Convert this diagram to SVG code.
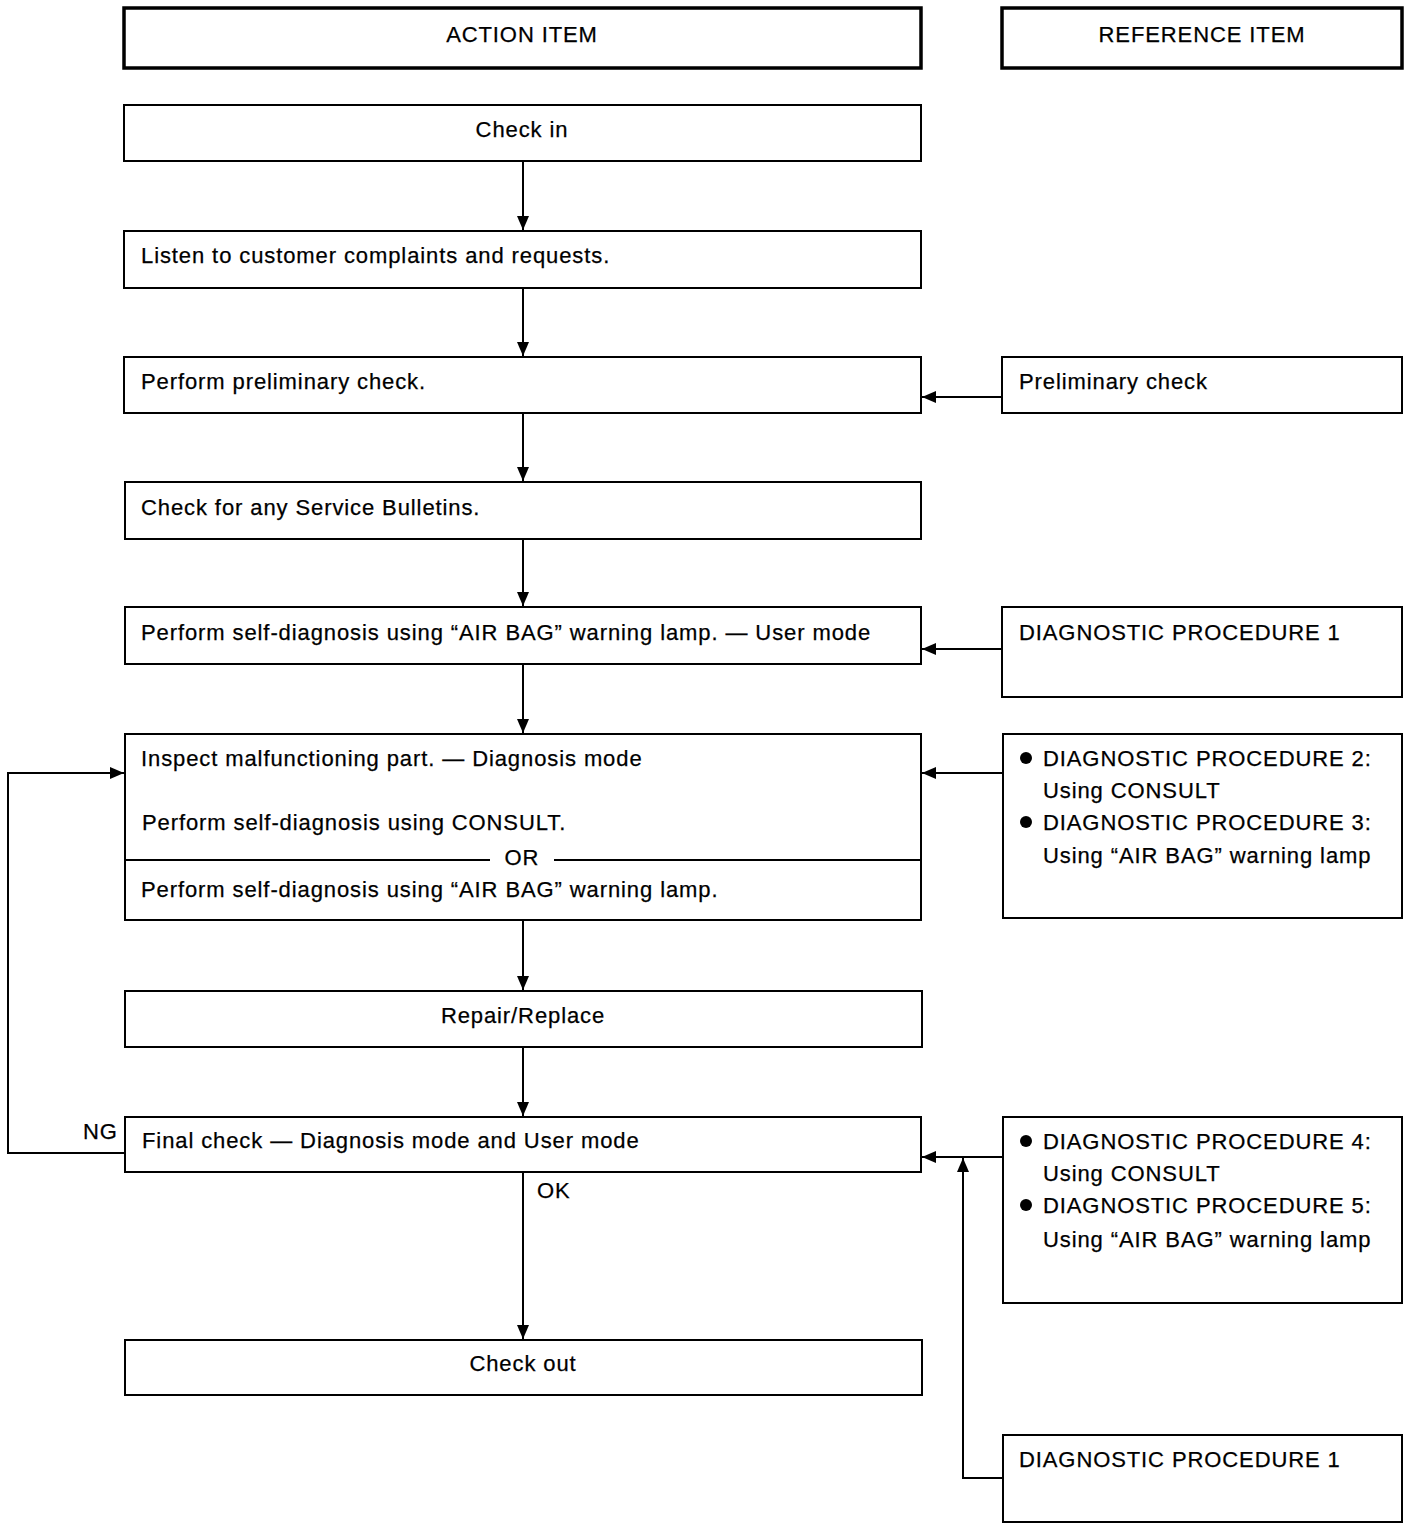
<svg xmlns="http://www.w3.org/2000/svg" width="1424" height="1530" viewBox="0 0 1424 1530">
<defs>
<marker id="ah" markerWidth="14" markerHeight="12" refX="14" refY="6" orient="auto" markerUnits="userSpaceOnUse">
<path d="M0,0 L14,6 L0,12 Z" fill="#000"/>
</marker>
<style>
.box{fill:#fff;stroke:#000;stroke-width:2}
.hdr{fill:#fff;stroke:#000;stroke-width:3.5}
text{font-family:"Liberation Sans",Arial,Helvetica,sans-serif;font-size:22px;letter-spacing:0.9px;fill:#000;stroke:#000;stroke-width:0.25}
.c{text-anchor:middle}
.ln{fill:none;stroke:#000;stroke-width:2}
</style>
</defs>
<rect width="1424" height="1530" fill="#fff"/>

<g id="hdr-action"><rect class="hdr" x="124" y="8" width="797" height="60"/><text class="c" x="522" y="42">ACTION ITEM</text></g>
<g id="hdr-ref"><rect class="hdr" x="1002" y="8" width="400" height="60"/><text class="c" x="1202" y="42">REFERENCE ITEM</text></g>

<g id="n-checkin"><rect class="box" x="124" y="105" width="797" height="56"/><text class="c" x="522" y="137">Check in</text></g>
<g id="n-listen"><rect class="box" x="124" y="231" width="797" height="57"/><text x="141" y="263">Listen to customer complaints and requests.</text></g>
<g id="n-prelim"><rect class="box" x="124" y="357" width="797" height="56"/><text x="141" y="389">Perform preliminary check.</text></g>
<g id="r-prelim"><rect class="box" x="1002" y="357" width="400" height="56"/><text x="1019" y="389">Preliminary check</text></g>
<g id="n-bulletins"><rect class="box" x="125" y="482" width="796" height="57"/><text x="141" y="515">Check for any Service Bulletins.</text></g>
<g id="n-selfdiag"><rect class="box" x="125" y="607" width="796" height="57"/><text x="141" y="640">Perform self-diagnosis using “AIR BAG” warning lamp. — User mode</text></g>
<g id="r-dp1a"><rect class="box" x="1002" y="607" width="400" height="90"/><text x="1019" y="640">DIAGNOSTIC PROCEDURE 1</text></g>
<g id="n-inspect"><rect class="box" x="125" y="734" width="796" height="186"/>
<text x="141" y="766">Inspect malfunctioning part. — Diagnosis mode</text>
<text x="142" y="830">Perform self-diagnosis using CONSULT.</text>
<line class="ln" x1="125" y1="860" x2="490" y2="860"/><line class="ln" x1="554" y1="860" x2="921" y2="860"/>
<text class="c" x="522" y="865">OR</text>
<text x="141" y="897">Perform self-diagnosis using “AIR BAG” warning lamp.</text></g>
<g id="r-dp23"><rect class="box" x="1003" y="734" width="399" height="184"/>
<circle cx="1026" cy="758" r="6"/><text x="1043" y="766">DIAGNOSTIC PROCEDURE 2:</text>
<text x="1043" y="798">Using CONSULT</text>
<circle cx="1026" cy="822" r="6"/><text x="1043" y="830">DIAGNOSTIC PROCEDURE 3:</text>
<text x="1043" y="863">Using “AIR BAG” warning lamp</text></g>
<g id="n-repair"><rect class="box" x="125" y="991" width="797" height="56"/><text class="c" x="523" y="1023">Repair/Replace</text></g>
<g id="n-final"><rect class="box" x="125" y="1117" width="796" height="55"/><text x="142" y="1148">Final check — Diagnosis mode and User mode</text></g>
<g id="r-dp45"><rect class="box" x="1003" y="1117" width="399" height="186"/>
<circle cx="1026" cy="1141" r="6"/><text x="1043" y="1149">DIAGNOSTIC PROCEDURE 4:</text>
<text x="1043" y="1181">Using CONSULT</text>
<circle cx="1026" cy="1205" r="6"/><text x="1043" y="1213">DIAGNOSTIC PROCEDURE 5:</text>
<text x="1043" y="1247">Using “AIR BAG” warning lamp</text></g>
<g id="n-checkout"><rect class="box" x="125" y="1340" width="797" height="55"/><text class="c" x="523" y="1371">Check out</text></g>
<g id="r-dp1b"><rect class="box" x="1003" y="1435" width="399" height="87"/><text x="1019" y="1467">DIAGNOSTIC PROCEDURE 1</text></g>

<g id="connectors">
<line class="ln" x1="523" y1="161" x2="523" y2="230" marker-end="url(#ah)"/>
<line class="ln" x1="523" y1="288" x2="523" y2="356" marker-end="url(#ah)"/>
<line class="ln" x1="523" y1="413" x2="523" y2="481" marker-end="url(#ah)"/>
<line class="ln" x1="523" y1="539" x2="523" y2="606" marker-end="url(#ah)"/>
<line class="ln" x1="523" y1="664" x2="523" y2="733" marker-end="url(#ah)"/>
<line class="ln" x1="523" y1="920" x2="523" y2="990" marker-end="url(#ah)"/>
<line class="ln" x1="523" y1="1047" x2="523" y2="1116" marker-end="url(#ah)"/>
<line class="ln" x1="523" y1="1172" x2="523" y2="1339" marker-end="url(#ah)"/>
<line class="ln" x1="1002" y1="397" x2="922" y2="397" marker-end="url(#ah)"/>
<line class="ln" x1="1002" y1="649" x2="922" y2="649" marker-end="url(#ah)"/>
<line class="ln" x1="1003" y1="773" x2="922" y2="773" marker-end="url(#ah)"/>
<line class="ln" x1="1003" y1="1157" x2="922" y2="1157" marker-end="url(#ah)"/>
<polyline class="ln" points="1003,1478 963,1478 963,1158" marker-end="url(#ah)"/>
<polyline class="ln" points="125,1153 8,1153 8,773 124,773" marker-end="url(#ah)"/>
<text x="83" y="1139">NG</text>
<text x="537" y="1198">OK</text>
</g>
</svg>
